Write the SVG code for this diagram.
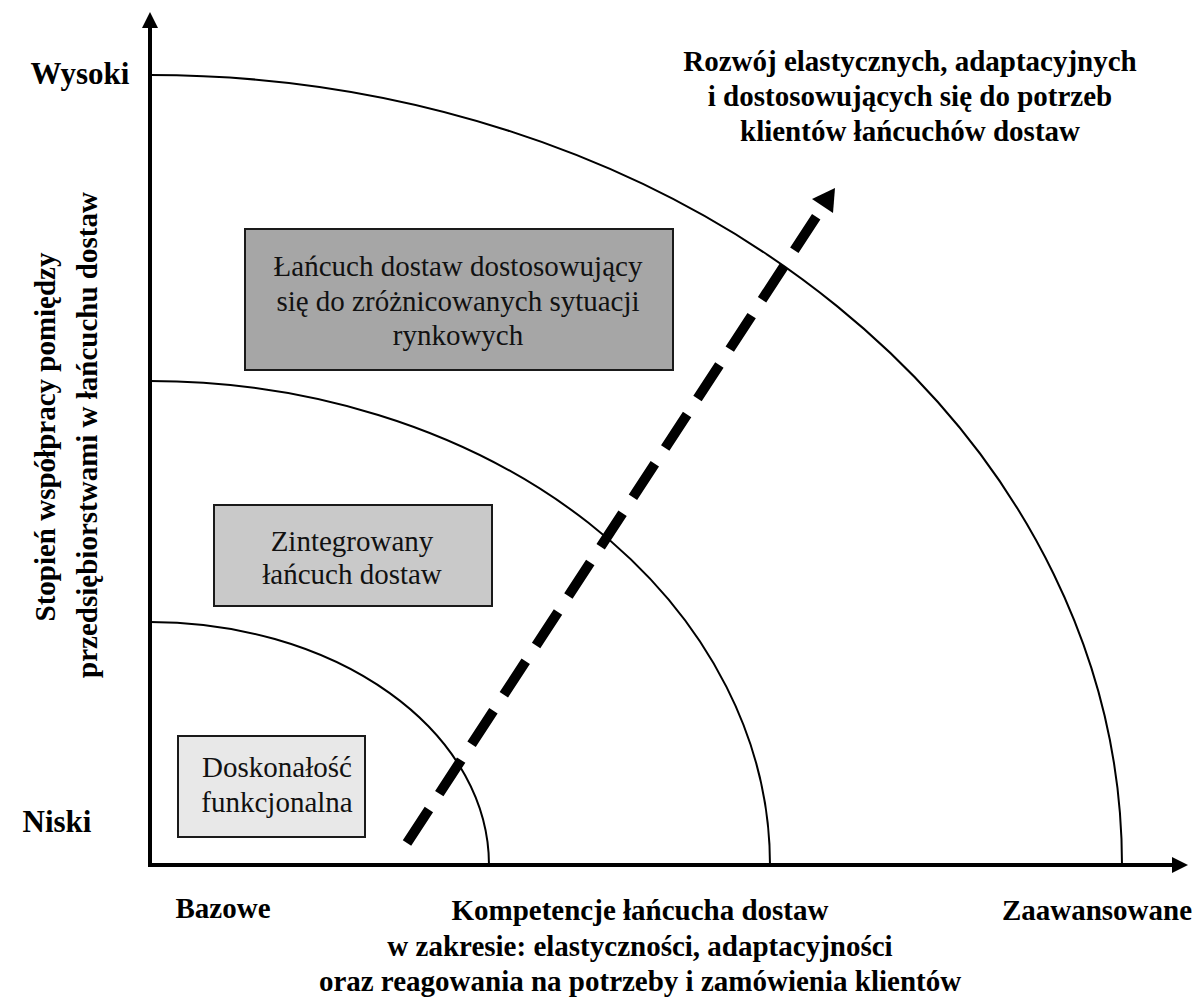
<svg xmlns="http://www.w3.org/2000/svg" width="1198" height="1001" viewBox="0 0 1198 1001">
<defs>
<style>
.arc{fill:none;stroke:#000;stroke-width:2}
.box{stroke:#1a1a1a;stroke-width:2}
.t{font-family:'Liberation Serif','Times New Roman','DejaVu Serif',serif;font-size:29px;fill:#111;text-anchor:middle}
.b{font-family:'Liberation Serif','Times New Roman','DejaVu Serif',serif;font-size:29px;font-weight:bold;fill:#000;text-anchor:middle}
.lv{font-size:31px}
</style>
</defs>
<rect width="1198" height="1001" fill="#fff"/>
<g id="arcs">
<path class="arc" d="M150,622 A339,243 0 0 1 489,865"/>
<path class="arc" d="M150,381 A620,484 0 0 1 770,865"/>
<path class="arc" d="M150,75 A972,790 0 0 1 1122,865"/>
</g>
<g id="axes">
<line x1="150" y1="867" x2="150" y2="26" stroke="#000" stroke-width="4"/>
<polygon points="150,12 142,28 158,28" fill="#000"/>
<line x1="148" y1="865" x2="1174" y2="865" stroke="#000" stroke-width="4"/>
<polygon points="1188,865 1172,857 1172,873" fill="#000"/>
</g>
<g id="node-doskonalosc">
<rect class="box" x="178" y="736" width="187" height="101" fill="#e8e8e8"/>
<text class="t" x="277" y="777">Doskonałość</text>
<text class="t" x="277" y="812">funkcjonalna</text>
</g>
<g id="node-zintegrowany">
<rect class="box" x="214" y="505" width="278" height="101" fill="#c9c9c9"/>
<text class="t" x="352" y="551">Zintegrowany</text>
<text class="t" x="352" y="584">łańcuch dostaw</text>
</g>
<g id="node-dostosowujacy">
<rect class="box" x="245" y="229" width="428" height="141" fill="#a6a6a6"/>
<text class="t" x="458" y="276">Łańcuch dostaw dostosowujący</text>
<text class="t" x="458" y="311">się do zróżnicowanych sytuacji</text>
<text class="t" x="458" y="345">rynkowych</text>
</g>
<g id="connectors">
<line x1="407" y1="843" x2="822" y2="208" stroke="#000" stroke-width="10" stroke-dasharray="40,19"/>
<polygon points="835,188 833,213 812,199" fill="#000"/>
</g>
<g id="labels">
<text class="b lv" x="80" y="84">Wysoki</text>
<text class="b lv" x="57" y="832">Niski</text>
<text class="b" x="223" y="918">Bazowe</text>
<text class="b" x="1097" y="920">Zaawansowane</text>
<text class="b" x="640" y="920">Kompetencje łańcucha dostaw</text>
<text class="b" x="640" y="956">w zakresie: elastyczności, adaptacyjności</text>
<text class="b" x="640" y="991">oraz reagowania na potrzeby i zamówienia klientów</text>
<text class="b" x="910" y="71">Rozwój elastycznych, adaptacyjnych</text>
<text class="b" x="910" y="106">i dostosowujących się do potrzeb</text>
<text class="b" x="910" y="141">klientów łańcuchów dostaw</text>
<text class="b" transform="translate(55,437) rotate(-90)">Stopień współpracy pomiędzy</text>
<text class="b" transform="translate(97,435) rotate(-90)">przedsiębiorstwami w łańcuchu dostaw</text>
</g>
</svg>
